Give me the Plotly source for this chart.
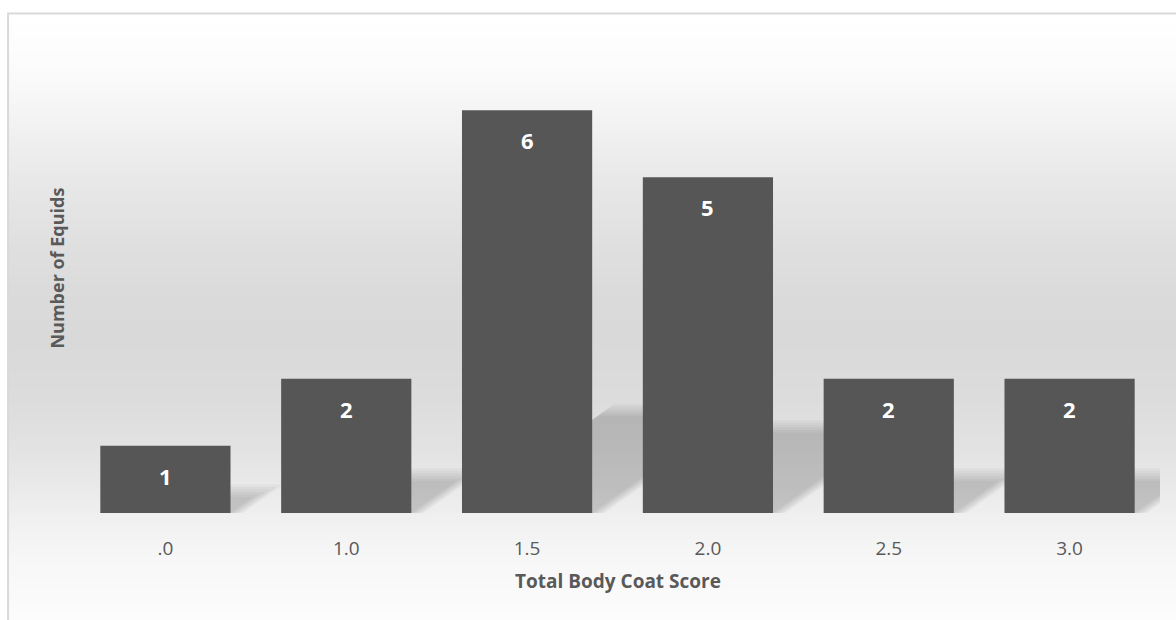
import plotly.graph_objects as go

categories = [".0", "1.0", "1.5", "2.0", "2.5", "3.0"]
counts = [1, 2, 6, 5, 2, 2]
x_title = "Total Body Coat Score"
y_title = "Number of Equids"

W, H = 1176, 620
L, R, T, B = 74.5, 15.5, 43, 107
plot_h = H - T - B
plot_w = W - L - R
x_idx = list(range(len(categories)))
bar_w = 0.72

def py2paper(py):
    return (H - B - py) / plot_h

def px2paper(px):
    return (px - L) / plot_w

fig = go.Figure()
fig.add_trace(go.Bar(
    x=x_idx, y=counts, width=bar_w,
    marker=dict(color="#565656", line=dict(width=0)),
    hoverinfo="skip", showlegend=False,
))

shapes = []
# background gradient strips
stops = [(14, 255), (60, 252), (90, 248), (130, 241), (180, 232), (240, 224),
         (300, 218), (340, 217), (400, 220), (445, 226), (480, 232), (513, 239),
         (560, 247), (620, 252)]

def gray_at(y):
    for (y0, g0), (y1, g1) in zip(stops[:-1], stops[1:]):
        if y0 <= y <= y1:
            return g0 + (g1 - g0) * (y - y0) / (y1 - y0)
    return stops[-1][1]

step = 3
y = 14
while y < H:
    g = int(round(gray_at(y + step / 2)))
    shapes.append(dict(type="rect", xref="paper", yref="paper", layer="below",
                       x0=px2paper(8), x1=px2paper(W + 5),
                       y0=py2paper(y + step + 0.5), y1=py2paper(y),
                       fillcolor=f"rgb({g},{g},{g})", line=dict(width=0)))
    y += step

# soft perspective shadows behind bars
px_per_x = plot_w / len(categories)
unit_px = plot_h / 7.0
for i, v in enumerate(counts):
    hs = 0.24 * v
    off = 1.4 * hs * unit_px / px_per_x
    layers = 6
    for k in range(layers):
        grow_px = (layers - 1 - k) * 2.5
        xl = i - bar_w / 2
        xr = i + bar_w / 2 + grow_px / px_per_x
        top = hs + grow_px / unit_px
        o = off * (top / hs)
        path = f"M {xl},0 L {xr},0 L {xr + o},{top} L {xl + o},{top} Z"
        shapes.append(dict(type="path", xref="x", yref="y", layer="below",
                           path=path, fillcolor="rgba(0,0,0,0.03)",
                           line=dict(width=0)))

# frame
shapes.append(dict(type="rect", xref="paper", yref="paper", layer="above",
                   x0=px2paper(7.5), x1=px2paper(W + 10),
                   y0=py2paper(H + 10), y1=py2paper(13.5),
                   fillcolor="rgba(0,0,0,0)", line=dict(color="#d9d9d9", width=2)))

annotations = []
for i, v in enumerate(counts):
    annotations.append(dict(x=i, y=v, xref="x", yref="y", text=f"<b>{v}</b>",
                            showarrow=False, yshift=-30,
                            xanchor="center", yanchor="middle",
                            font=dict(family="Open Sans", size=22, color="white")))
annotations.append(dict(x=0.5, y=py2paper(581), xref="paper", yref="paper",
                        text=f"<b>{x_title}</b>", showarrow=False,
                        xanchor="center", yanchor="middle",
                        font=dict(family="Open Sans", size=19, color="#595959")))
annotations.append(dict(x=px2paper(56), y=py2paper(268), xref="paper", yref="paper",
                        text=f"<b>{y_title}</b>", showarrow=False, textangle=-90,
                        xanchor="center", yanchor="middle",
                        font=dict(family="Open Sans", size=18, color="#595959")))

fig.update_layout(
    width=W, height=H,
    margin=dict(l=L, r=R, t=T, b=B, pad=0),
    paper_bgcolor="white", plot_bgcolor="rgba(0,0,0,0)",
    shapes=shapes, annotations=annotations, bargap=0.28,
    xaxis=dict(tickvals=x_idx, ticktext=categories, range=[-0.5, len(categories) - 0.5],
               showgrid=False, zeroline=False, showline=False, ticks="",
               ticklabelstandoff=22,
               tickfont=dict(family="Open Sans", size=19, color="#595959")),
    yaxis=dict(range=[0, 7], showgrid=False, zeroline=False, showline=False,
               showticklabels=False, ticks=""),
)

fig.write_html("out.html", config={"displayModeBar": False},
               post_script="document.body.style.margin='0';document.body.style.overflow='hidden';")
